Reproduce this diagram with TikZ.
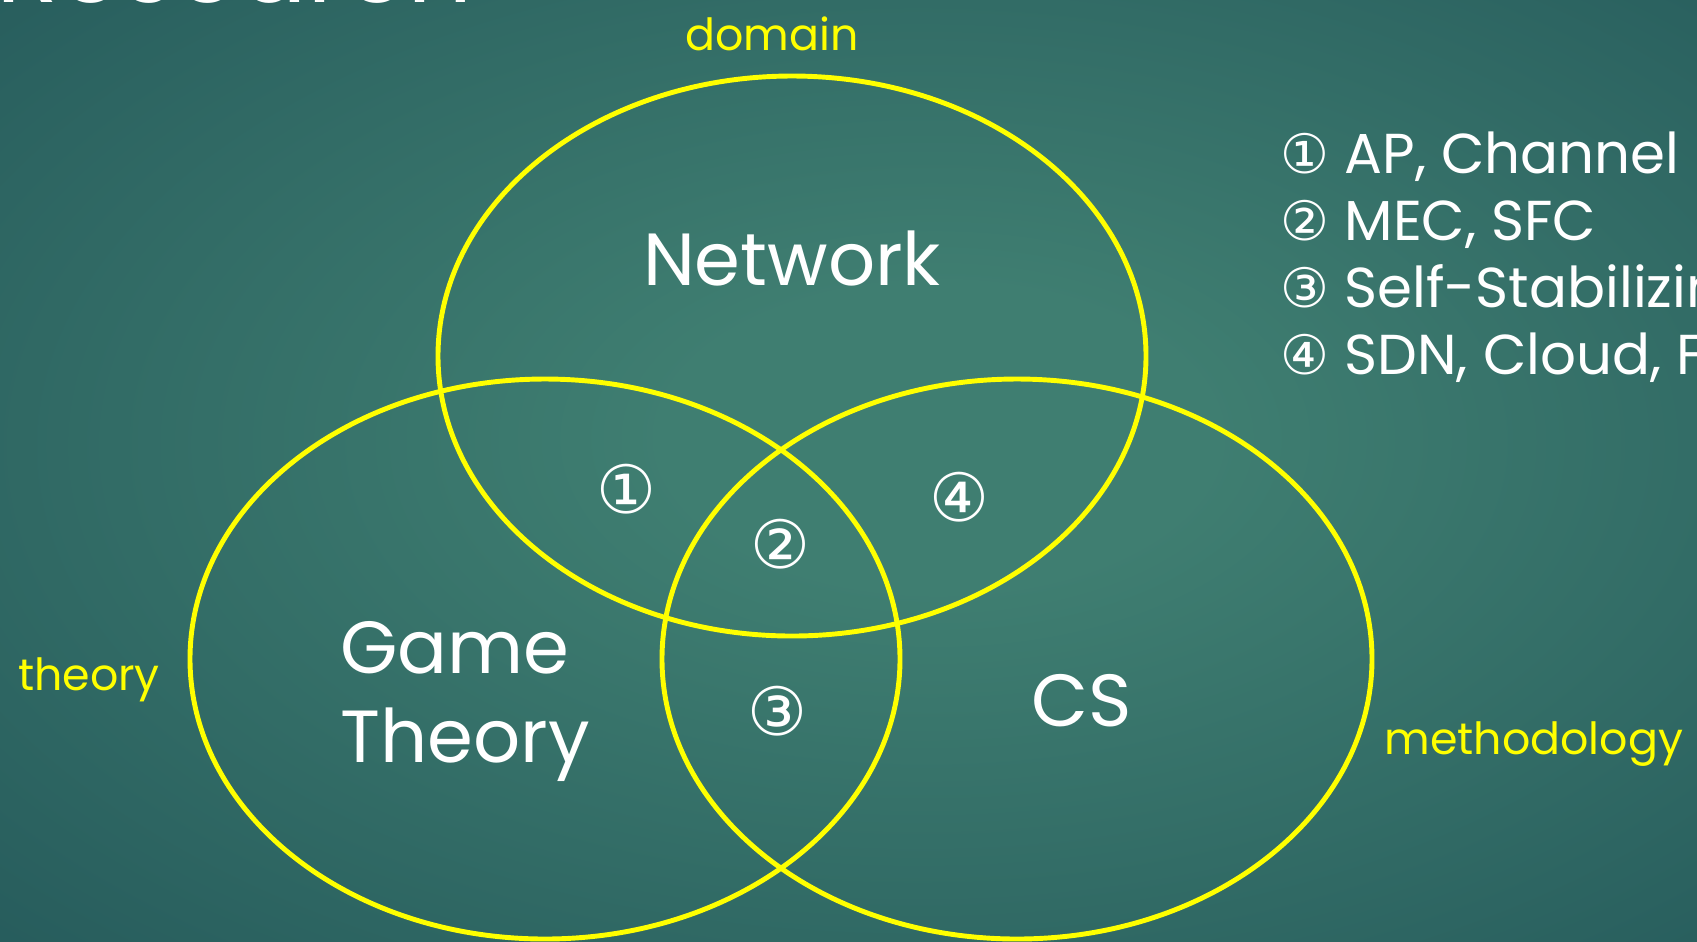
\documentclass[tikz,border=0pt]{standalone}
\usepackage{fontspec}
\setmainfont{Poppins}
\newfontfamily\circfont{DejaVu Sans}
\usetikzlibrary{positioning}
\definecolor{bgmid}{HTML}{3F7E71}
\definecolor{bgside}{HTML}{1E5055}
\definecolor{bgedge}{HTML}{143F49}
\definecolor{vennyellow}{HTML}{FFFF00}
\pgfdeclareradialshading{slidebg}{\pgfpoint{3bp}{2bp}}{color(0bp)=(bgmid); color(8bp)=(bgmid); color(48bp)=(bgside); color(72bp)=(bgedge)}
\newcommand{\cnum}[1]{{\circfont\fontsize{15.5}{16}\selectfont #1}}

\begin{document}
\begin{tikzpicture}[x=0.01cm,y=-0.01cm,
  venn/.style={draw=vennyellow,line width=1.4pt},
  axislbl/.style={text=vennyellow,font=\fontsize{12.6}{15}\selectfont,inner sep=0pt},
  area/.style={text=white,font=\fontsize{21}{25.3}\selectfont,inner sep=0pt},
  regno/.style={text=white,font=\circfont\fontsize{19}{22}\selectfont,inner sep=0pt},
  item/.style={text=white,font=\fontsize{16}{19}\selectfont,anchor=base west,inner sep=0pt}]
  \useasboundingbox (0,0) rectangle (1697,941);
  \clip (0,0) rectangle (1697,941);
  \shade[shading=slidebg] (0,0) rectangle (1697,941);
  % slide title, mostly above the page
  \node[anchor=base west,text=white,font=\fontsize{29}{34}\selectfont,inner sep=0pt] (title) at (-4,2) {Research};

  % three sets
  \draw[venn] (792,356) ellipse [x radius=354,y radius=280];
  \draw[venn] (545,659) ellipse [x radius=355,y radius=280];
  \draw[venn] (1017,659) ellipse [x radius=355,y radius=280];
  \node[area] (network) at (792,258) {Network};
  \node[area,align=left] (game) at (465,701) {Game\\Theory};
  \node[area] (cs) at (1082,701) {CS};

  % overlaps
  \node[regno] (r1) at (626,489) {①};
  \node[regno] (r2) at (780,544) {②};
  \node[regno] (r3) at (777,711) {③};
  \node[regno] (r4) at (959,497) {④};

  \node[axislbl,anchor=base] (domain) at (772,50) {domain};
  \node[axislbl,anchor=base] (theory) at (89,690) {theory};
  \node[axislbl,anchor=base west] (method) at (1384,754) {methodology};

  % legend
  \node[item] (item1) at (1280,173) {\cnum{①} AP, Channel};
  \node[item] (item2) at (1280,240) {\cnum{②} MEC, SFC};
  \node[item] (item3) at (1280,307) {\cnum{③} Self-Stabilizing};
  \node[item] (item4) at (1280,374) {\cnum{④} SDN, Cloud, F};
\end{tikzpicture}
\end{document}
